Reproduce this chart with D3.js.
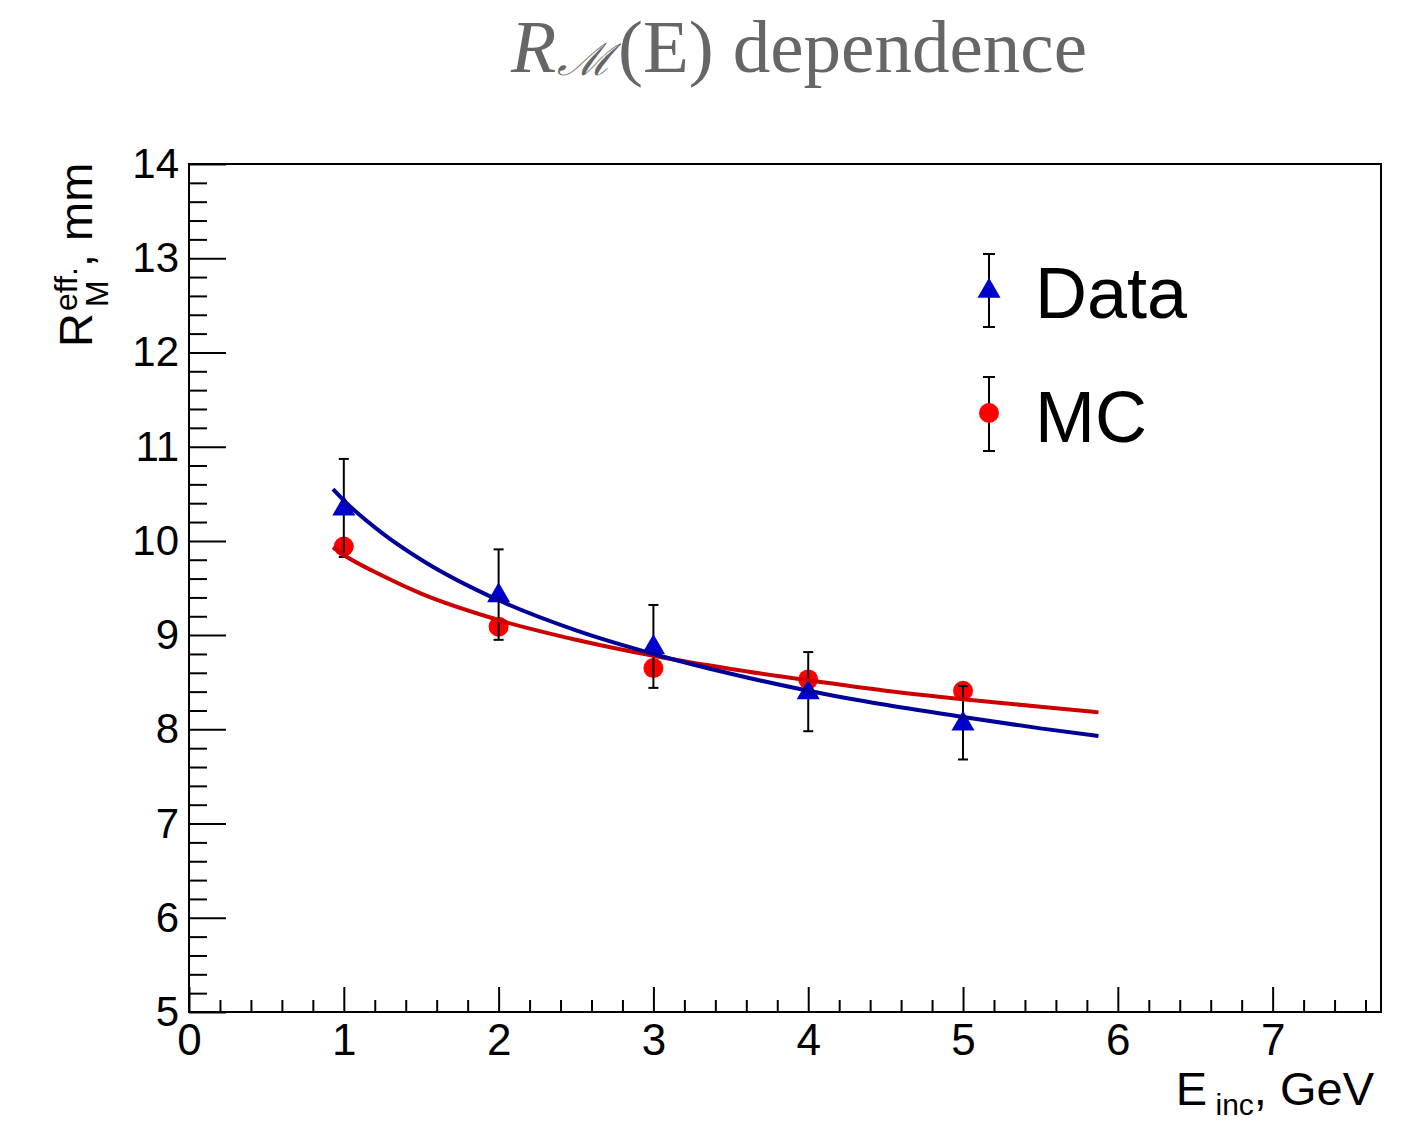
<!DOCTYPE html>
<html><head><meta charset="utf-8">
<script src="https://cdn.jsdelivr.net/npm/d3@7"></script>
<style>body{margin:0;background:#fff}</style>
</head><body>
<script>
// ---- data ----
const energies = [1, 2, 3, 4, 5];
const dataValues = [10.35, 9.43, 8.88, 8.40, 8.07];
const dataErrors = [0.52, 0.48, 0.44, 0.42, 0.39];
const mcValues = [9.94, 9.09, 8.65, 8.53, 8.41];
const mcErrors = [0.05, 0.05, 0.05, 0.05, 0.05];
// fit curves
const fitX = [0.93, 1.0, 1.25, 1.5, 2.0, 2.5, 3.0, 3.5, 4.0, 4.5, 5.0, 5.5, 5.875];
const dataFitY = [10.55, 10.43, 10.08, 9.80, 9.37, 9.05, 8.80, 8.59, 8.41, 8.26, 8.13, 8.01, 7.93];
const mcFitY = [9.93, 9.85, 9.63, 9.44, 9.16, 8.95, 8.78, 8.64, 8.52, 8.41, 8.32, 8.24, 8.18];
const xTicks = [0, 1, 2, 3, 4, 5, 6, 7];
const yTicks = [5, 6, 7, 8, 9, 10, 11, 12, 13, 14];
const xDomain = [0, 7.7];
const yDomain = [5, 14];
const legendLabels = ["Data", "MC"];

const W = 1428, H = 1122;
const svg = d3.select("body").append("svg").attr("width", W).attr("height", H)
  .style("font-family", "'Liberation Sans', Arial, sans-serif");

const L = 189, R = 1381, T = 164, B = 1012;
const x = d3.scaleLinear().domain(xDomain).range([L, R]);
const y = d3.scaleLinear().domain(yDomain).range([B, T]);

// title
const serif = "'Liberation Serif', 'DejaVu Serif', serif";
svg.append("text").attr("x", 511).attr("y", 72).attr("fill", "#666")
  .style("font-family", serif).attr("font-size", 74).attr("font-style", "italic").text("R");
svg.append("text").attr("x", 557).attr("y", 75).attr("fill", "#666")
  .attr("textLength", 56).attr("lengthAdjust", "spacingAndGlyphs")
  .style("font-family", "'DejaVu Serif', serif").attr("font-size", 44).attr("font-style", "italic").text("\u2133");
svg.append("text").attr("x", 618).attr("y", 72).attr("fill", "#666")
  .attr("textLength", 469).attr("lengthAdjust", "spacingAndGlyphs")
  .style("font-family", serif).attr("font-size", 75).text("(E) dependence");

// axes
const minorX = d3.range(0, 7.7 + 1e-9, 0.2).filter(v => Math.abs(v - Math.round(v)) > 1e-6);
const minorY = d3.range(5, 14 + 1e-9, 0.2).filter(v => Math.abs(v - Math.round(v)) > 1e-6);

const gx = svg.append("g").attr("transform", `translate(0,${B})`);
gx.call(d3.axisBottom(x).tickValues(xTicks).tickSize(-25).tickPadding(12).tickFormat(d3.format("d")));
const gxm = svg.append("g").attr("transform", `translate(0,${B})`);
gxm.call(d3.axisBottom(x).tickValues(minorX).tickSize(-12).tickFormat(""));

const gy = svg.append("g").attr("transform", `translate(${L},0)`);
gy.call(d3.axisLeft(y).tickValues(yTicks).tickSize(-37).tickPadding(10).tickFormat(d3.format("d")));
const gym = svg.append("g").attr("transform", `translate(${L},0)`);
gym.call(d3.axisLeft(y).tickValues(minorY).tickSize(-18).tickFormat(""));

[gx, gxm, gy, gym].forEach(g => {
  g.select(".domain").remove();
  g.selectAll(".tick line").attr("stroke", "#000").attr("stroke-width", 2);
});
gx.selectAll("text").attr("font-size", 44).attr("fill", "#000")
  .style("font-family", "'Liberation Sans', Arial, sans-serif").attr("dy", "0.71em");
gy.selectAll("text").attr("font-size", 42).attr("fill", "#000")
  .style("font-family", "'Liberation Sans', Arial, sans-serif");

// frame
svg.append("rect").attr("x", L).attr("y", T).attr("width", R - L).attr("height", B - T)
  .attr("fill", "none").attr("stroke", "#000").attr("stroke-width", 2);

// axis titles
const xt = svg.append("text").attr("x", 1374).attr("y", 1105).attr("text-anchor", "end")
  .attr("font-size", 47).attr("fill", "#000");
xt.append("tspan").text("E");
xt.append("tspan").attr("font-size", 30).attr("dy", 10).text(" inc");
xt.append("tspan").attr("dy", -10).text(", GeV");

const yl = svg.append("g").attr("transform", "translate(92,347) rotate(-90)");
yl.append("text").attr("x", 0).attr("y", 0).attr("font-size", 47).text("R");
yl.append("text").attr("x", 36).attr("y", -15).attr("font-size", 32).text("eff.");
yl.append("text").attr("x", 40).attr("y", 16).attr("font-size", 32).text("M");
yl.append("text").attr("x", 80).attr("y", 0).attr("font-size", 47).text(", mm");

// drawing helpers
const tri = d3.symbol().type(d3.symbolTriangle).size(230);
function errorBars(g, xs, vals, errs) {
  xs.forEach((e, i) => {
    const cx = x(e), y1 = y(vals[i] + errs[i]), y2 = y(vals[i] - errs[i]);
    g.append("line").attr("x1", cx).attr("x2", cx).attr("y1", y1).attr("y2", y2)
      .attr("stroke", "#000").attr("stroke-width", 2);
    [y1, y2].forEach(yy => g.append("line").attr("x1", cx - 5).attr("x2", cx + 5)
      .attr("y1", yy).attr("y2", yy).attr("stroke", "#000").attr("stroke-width", 2));
  });
}

// MC graph
const gmc = svg.append("g");
errorBars(gmc, energies, mcValues, mcErrors);
gmc.selectAll("circle").data(energies).join("circle")
  .attr("cx", d => x(d)).attr("cy", (d, i) => y(mcValues[i])).attr("r", 10).attr("fill", "#ff0000");

// Data graph
const gd = svg.append("g");
errorBars(gd, energies, dataValues, dataErrors);
gd.selectAll("path").data(energies).join("path")
  .attr("d", tri).attr("transform", (d, i) => `translate(${x(d)},${y(dataValues[i]) + 1})`)
  .attr("fill", "#0000cc");

// fit curves
const line = (ys) => d3.line().x((d) => x(d)).y((d, i) => y(ys[i])).curve(d3.curveMonotoneX)(fitX);
svg.append("path").attr("d", line(mcFitY)).attr("fill", "none").attr("stroke", "#cc0000").attr("stroke-width", 4);
svg.append("path").attr("d", line(dataFitY)).attr("fill", "none").attr("stroke", "#000099").attr("stroke-width", 4);

// legend
const legY = [290, 413];
const legBar = [[254, 327], [377, 451]];
const lx = 989;
legBar.forEach(([a, b]) => {
  svg.append("line").attr("x1", lx).attr("x2", lx).attr("y1", a).attr("y2", b).attr("stroke", "#000").attr("stroke-width", 2);
  [a, b].forEach(v => svg.append("line").attr("x1", lx - 6).attr("x2", lx + 6).attr("y1", v).attr("y2", v).attr("stroke", "#000").attr("stroke-width", 2));
});
svg.append("path").attr("d", tri).attr("transform", `translate(${lx},${legY[0] + 1})`).attr("fill", "#0000cc");
svg.append("circle").attr("cx", lx).attr("cy", legY[1]).attr("r", 10).attr("fill", "#ff0000");
legendLabels.forEach((t, i) => svg.append("text").attr("x", 1035).attr("y", [318, 442][i])
  .attr("font-size", 72).attr("fill", "#000").text(t));
</script>
</body></html>
